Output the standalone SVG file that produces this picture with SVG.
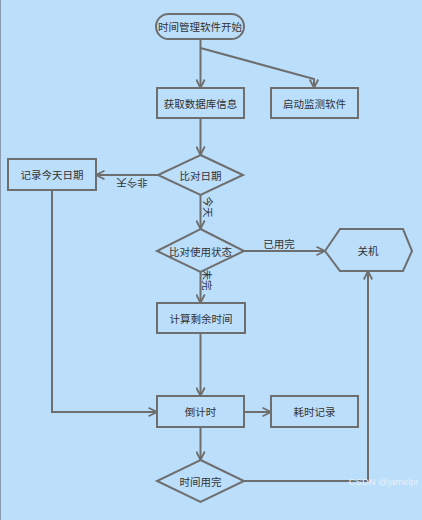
<svg xmlns="http://www.w3.org/2000/svg" width="422" height="520" viewBox="0 0 422 520">
<defs>
<style>
.shape{fill:#bbdefb;stroke:#6e6e6e;stroke-width:2}
.line{fill:none;stroke:#6e6e6e;stroke-width:2}
.t{font-family:"Noto Sans CJK SC","Liberation Sans",sans-serif;font-size:10.5px;fill:#333;text-anchor:middle;dominant-baseline:central}
.lbl{font-family:"Noto Sans CJK SC","Liberation Sans",sans-serif;font-size:10.5px;fill:#333;text-anchor:middle;dominant-baseline:central}
</style>
<marker id="arr" viewBox="0 0 10 10" refX="9.5" refY="5" markerWidth="10" markerHeight="10" markerUnits="userSpaceOnUse" orient="auto">
<path d="M1,0.8 L9.5,5 L1,9.2" fill="none" stroke="#6e6e6e" stroke-width="1.8"/>
</marker>
</defs>
<rect x="0" y="0" width="422" height="520" fill="#bbdefb"/>
<line x1="0.5" y1="0" x2="0.5" y2="520" stroke="#8a9bb0" stroke-width="1"/>

<g id="connectors">
<path class="line" d="M200.5,39 V88" marker-end="url(#arr)"/>
<path class="line" d="M200.5,48 L314,79 V88" marker-end="url(#arr)"/>
<path class="line" d="M200.5,118 V155" marker-end="url(#arr)"/>
<path class="line" d="M158,175 H96" marker-end="url(#arr)"/>
<path class="line" d="M200.5,195 V229" marker-end="url(#arr)"/>
<path class="line" d="M52,190 V412 H157" marker-end="url(#arr)"/>
<path class="line" d="M244,251 H325" marker-end="url(#arr)"/>
<path class="line" d="M200.5,271 V303" marker-end="url(#arr)"/>
<path class="line" d="M200.5,333 V396" marker-end="url(#arr)"/>
<path class="line" d="M244,412 H271" marker-end="url(#arr)"/>
<path class="line" d="M200.5,427 V460" marker-end="url(#arr)"/>
<path class="line" d="M244,481 H368 V271" marker-end="url(#arr)"/>
<text class="lbl" transform="translate(132,183) rotate(180)">非今天</text>
<text class="lbl" transform="translate(208,207) rotate(90)">今天</text>
<text class="lbl" transform="translate(207,280) rotate(90)">未完</text>
<text class="lbl" x="279" y="243">已用完</text>
</g>

<g id="start">
<rect class="shape" x="156" y="14" width="88" height="25" rx="12.5"/>
<text class="t" x="200" y="26.5">时间管理软件开始</text>
</g>
<g id="getdb">
<rect class="shape" x="157" y="88" width="87" height="30"/>
<text class="t" x="200.5" y="103">获取数据库信息</text>
</g>
<g id="monitor">
<rect class="shape" x="271" y="88" width="87" height="30"/>
<text class="t" x="314.5" y="103">启动监测软件</text>
</g>
<g id="cmpdate">
<polygon class="shape" points="200.5,155 243,175 200.5,195 158,175"/>
<text class="t" x="200.5" y="175">比对日期</text>
</g>
<g id="record">
<rect class="shape" x="8" y="159" width="88" height="31"/>
<text class="t" x="52" y="174.5">记录今天日期</text>
</g>
<g id="cmpstate">
<polygon class="shape" points="200.5,229 244,251 200.5,272 157,251"/>
<text class="t" x="200.5" y="251">比对使用状态</text>
</g>
<g id="shutdown">
<polygon class="shape" points="325,251 340,229 403,229 412,251 403,271 340,271"/>
<text class="t" x="368" y="250">关机</text>
</g>
<g id="calc">
<rect class="shape" x="157" y="303" width="88" height="30"/>
<text class="t" x="201" y="318">计算剩余时间</text>
</g>
<g id="countdown">
<rect class="shape" x="157" y="396" width="87" height="31"/>
<text class="t" x="200.5" y="411.5">倒计时</text>
</g>
<g id="timelog">
<rect class="shape" x="271" y="396" width="87" height="31"/>
<text class="t" x="314.5" y="411.5">耗时记录</text>
</g>
<g id="timeup">
<polygon class="shape" points="200.5,460 244,481 200.5,502 157,481"/>
<text class="t" x="200.5" y="481">时间用完</text>
</g>
<text x="418" y="481" font-family="Liberation Sans, sans-serif" font-size="9.5" fill="#e8f0f8" text-anchor="end" dominant-baseline="central">CSDN @jamelpi</text>
</svg>
